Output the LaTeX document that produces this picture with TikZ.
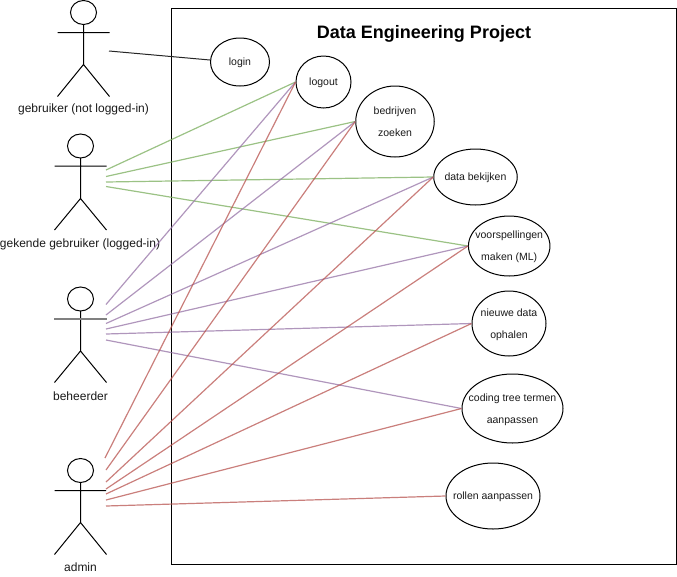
\documentclass[tikz,border=0pt]{standalone}
\usepackage{fontspec}
\setmainfont{Liberation Sans}
\usetikzlibrary{shapes.geometric}
\definecolor{gr}{HTML}{82B366}
\definecolor{pu}{HTML}{9673A6}
\definecolor{re}{HTML}{B85450}
\definecolor{txt}{HTML}{1A1A1A}
\newcommand{\uctext}[1]{\makebox[0pt][c]{\raisebox{-2pt}[0pt][0pt]{\begin{tabular}[c]{@{}c@{}}#1\end{tabular}}}}
\tikzset{
  x=1pt,y=-1pt,
  usecase/.style={draw=black,fill=white,ellipse,line width=1pt,inner sep=0pt,text=txt,
    font=\fontsize{10.5}{22}\selectfont},
  head/.style={draw=black,ellipse,line width=1pt,inner sep=0pt,minimum width=26pt,minimum height=24pt},
  limb/.style={draw=black,line width=1pt},
  actorlabel/.style={text=txt,inner sep=0pt,font=\fontsize{12}{14}\selectfont},
  grl/.style={draw=gr,line width=1.2pt,opacity=.8},
  pul/.style={draw=pu,line width=1.2pt,opacity=.75},
  rel/.style={draw=re,line width=1.2pt,opacity=.75},
  bkl/.style={draw=black!85,line width=1pt}
}
\begin{document}
\begin{tikzpicture}
\useasboundingbox (0,0) rectangle (677,576);
\draw[black,line width=1pt] (171.5,8.5) rectangle (676.5,564.5);
\node[font=\bfseries\fontsize{18}{20}\selectfont,inner sep=0pt] (title) at (424,34) {Data Engineering Project};

% actors
\node[head] (h1) at (83.5,12.5) {};
\draw[limb] (57.5,32.5) -- (109.5,32.5) (83.5,24.5) -- (83.5,64.5) (57.5,96.5) -- (83.5,64.5) -- (109.5,96.5);
\node[actorlabel] (a1) at (83.5,109.5) {gebruiker (not logged-in)};
\node[head] (h2) at (80.5,146) {};
\draw[limb] (54.5,166) -- (106.5,166) (80.5,158) -- (80.5,198.5) (54.5,230) -- (80.5,198.5) -- (106.5,230);
\node[actorlabel] (a2) at (80,244) {gekende gebruiker (logged-in)};
\node[head] (h3) at (80.5,299) {};
\draw[limb] (80.5,311) -- (80.5,351) (54.5,382.5) -- (80.5,351) -- (106.5,382.5);
\draw[draw=black!50,line width=2pt] (54,319) -- (107,319);
\node[actorlabel] (a3) at (80.5,396.5) {beheerder};
\node[head] (h4) at (80.5,470.5) {};
\draw[limb] (54.5,490.5) -- (106,490.5) (80.5,482.5) -- (80.5,522.5) (54.5,554.5) -- (80.5,522.5) -- (106.5,554.5);
\node[actorlabel] (a4) at (80.5,567.5) {admin};

% use cases
\node[usecase,minimum width=59pt,minimum height=48pt] (login) at (240,62) {\uctext{login}};
\node[usecase,minimum width=55pt,minimum height=52pt] (logout) at (323.5,82) {\uctext{logout}};
\node[usecase,minimum width=78.5pt,minimum height=71pt] (bedrijven) at (395,121.5) {\uctext{bedrijven\\zoeken}};
\node[usecase,minimum width=83.5pt,minimum height=56pt] (data) at (475.5,177) {\uctext{data bekijken}};
\node[usecase,minimum width=81.5pt,minimum height=60pt] (voorsp) at (509.2,246) {\uctext{voorspellingen\\maken (ML)}};
\node[usecase,minimum width=74pt,minimum height=65pt] (nieuwe) at (509,323.5) {\uctext{nieuwe data\\ophalen}};
\node[usecase,minimum width=101pt,minimum height=69pt] (coding) at (512.5,408.5) {\uctext{coding tree termen\\aanpassen}};
\node[usecase,minimum width=94pt,minimum height=66pt] (rollen) at (493,496) {\uctext{rollen aanpassen}};

% connector start points
\foreach \n/\x/\y in {s0/109/51,
  g1/106/170,g2/106/176.5,g3/106/182,g4/106/186.5,
  p1/106/304.5,p2/106/315,p3/106/323.5,p4/106/329,p5/106/334,p6/106/340,
  r1/105/458,r2/106/470,r3/106/482,r4/106/489,r5/106/494,r6/106/500,r7/106/506}
  \coordinate (\n) at (\x,\y);

\draw[bkl] (s0) -- (login.west |- 0,60);
\foreach \s/\t in {g1/logout,g2/bedrijven,g3/data,g4/voorsp}
  \draw[grl] (\s) -- (\t.west);
\foreach \s/\t in {p1/logout,p2/bedrijven,p3/data,p4/voorsp,p5/nieuwe,p6/coding}
  \draw[pul] (\s) -- (\t.west);
\foreach \s/\t in {r1/logout,r2/bedrijven,r3/data,r4/voorsp,r5/nieuwe,r6/coding,r7/rollen}
  \draw[rel] (\s) -- (\t.west);
\end{tikzpicture}
\end{document}
